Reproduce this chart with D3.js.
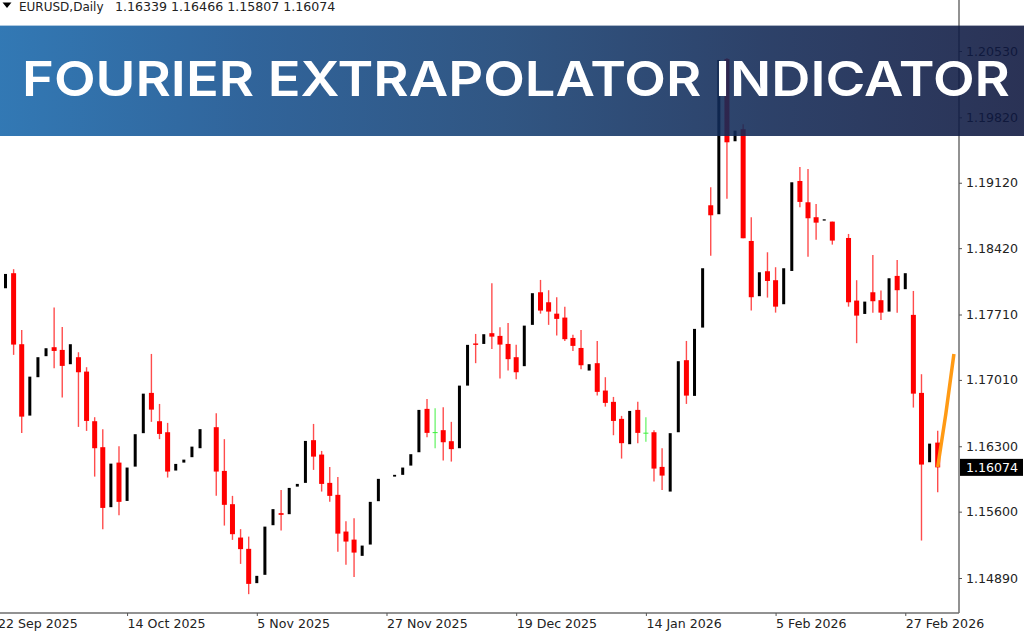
<!DOCTYPE html>
<html>
<head>
<meta charset="utf-8">
<style>
  body { margin: 0; background: #fff; }
  text { font-family: "DejaVu Sans", sans-serif; }
</style>
<script src="https://cdn.jsdelivr.net/npm/d3@7"></script>
</head>
<body>
<div id="chart"></div>
<script>
// Daily EURUSD bars, one entry per bar, null where the chart shows no bar
const opens = [1.17991,1.18152,1.17392,1.16628,1.17039,1.17264,1.17360,1.17331,1.17178,1.17253,1.17099,1.16568,1.16290,1.15648,1.16125,1.15715,1.16082,1.16440,1.16871,1.16568,1.16450,1.16040,1.16125,1.16183,1.16279,null,1.16504,1.16036,1.15680,1.15323,1.15202,1.14835,1.14924,1.15455,1.15584,1.15573,1.15868,1.15908,1.16365,1.16211,1.15908,1.15780,1.15387,1.15301,1.15127,1.15248,1.15712,null,1.15975,1.15994,1.16093,1.16236,1.16700,1.16446,1.16472,1.16354,1.16279,1.16949,1.17400,1.17395,1.17510,1.17481,1.17395,1.17253,1.17157,1.17599,1.17948,1.17841,1.17719,1.17677,1.17459,1.17352,1.17110,1.17189,1.16896,1.16775,1.16593,1.16322,1.16689,1.16440,1.16450,1.16079,1.15815,1.16450,1.17221,1.16839,1.17570,1.18879,1.18783,1.20445,1.19564,1.19693,1.18497,1.17906,1.18173,1.18077,1.17820,1.18176,1.19139,1.18911,1.18751,1.18715,1.18704,null,1.18529,1.17859,1.17716,1.17948,1.17863,1.17741,1.18123,1.17981,1.17706,1.16871,1.16129,1.16339];
const highs = [1.18144,1.18195,1.17545,1.17045,1.17253,1.17349,1.17784,1.17577,1.17392,1.17306,1.17146,1.16611,1.16483,1.16114,1.16301,1.16072,1.16429,1.16863,1.17288,1.16753,1.16550,1.16111,1.16157,1.16296,1.16483,null,1.16654,1.16376,1.15769,1.15413,1.15333,1.14913,1.15440,1.15627,1.15833,1.15854,1.15897,1.16357,1.16539,1.16250,1.16079,1.15972,1.15498,1.15530,1.15237,1.15705,1.15951,null,1.15994,1.16072,1.16215,1.16689,1.16807,1.16707,1.16718,1.16561,1.16949,1.17385,1.17502,1.17499,1.18045,1.17574,1.17620,1.17385,1.17591,1.17938,1.18080,1.17970,1.17895,1.17794,1.17492,1.17545,1.17178,1.17427,1.17039,1.16828,1.16625,1.16678,1.16775,1.16611,1.16472,1.16279,1.16440,1.17210,1.17427,1.17556,1.18205,1.19072,1.20434,1.20456,1.19678,1.19746,1.18751,1.18162,1.18376,1.18216,1.18205,1.19125,1.19289,1.19268,1.18893,1.18729,1.18704,null,1.18572,1.18077,1.17848,1.18348,1.17966,1.18098,1.18294,1.18152,1.17962,1.17071,1.16328,1.16466];
const lows = [1.17991,1.17278,1.16443,1.16628,1.17039,1.17264,1.17135,1.16821,1.17178,1.16507,1.16464,1.15975,1.15413,1.15648,1.15562,1.15715,1.16082,1.16440,1.16561,1.16376,1.15965,1.16040,1.16125,1.16183,1.16279,null,1.15769,1.15451,1.15298,1.15041,1.14717,1.14835,1.14924,1.15455,1.15398,1.15573,1.15868,1.15908,1.16047,1.15815,1.15705,1.15170,1.15031,1.14902,1.15127,1.15248,1.15712,null,1.15975,1.15994,1.16093,1.16236,1.16397,1.16279,1.16147,1.16136,1.16279,1.16949,1.17189,1.17395,1.17342,1.17024,1.17110,1.17018,1.17157,1.17599,1.17719,1.17599,1.17484,1.17427,1.17320,1.17125,1.17110,1.16842,1.16724,1.16418,1.16168,1.16322,1.16333,1.16347,1.15922,1.15833,1.15815,1.16450,1.16753,1.16839,1.17570,1.18340,1.18783,1.18950,1.19564,1.18526,1.17752,1.17906,1.17891,1.17730,1.17820,1.18176,1.18858,1.18329,1.18511,1.18715,1.18458,null,1.17794,1.17403,1.17716,1.17730,1.17652,1.17741,1.17730,1.17981,1.16714,1.15291,1.16129,1.15807];
const closes = [1.18144,1.17388,1.16617,1.17045,1.17253,1.17349,1.17320,1.17160,1.17392,1.17092,1.16571,1.16279,1.15640,1.16114,1.15705,1.16072,1.16429,1.16863,1.16692,1.16432,1.16029,1.16111,1.16157,1.16296,1.16483,null,1.16029,1.15673,1.15359,1.15199,1.14827,1.14913,1.15440,1.15627,1.15566,1.15854,1.15897,1.16357,1.16189,1.15897,1.15769,1.15365,1.15280,1.15162,1.15237,1.15705,1.15951,null,1.15994,1.16072,1.16215,1.16689,1.16443,1.16446,1.16343,1.16269,1.16949,1.17385,1.17385,1.17499,1.17473,1.17388,1.17232,1.17092,1.17591,1.17938,1.17752,1.17741,1.17663,1.17446,1.17374,1.17167,1.17178,1.16882,1.16764,1.16571,1.16333,1.16678,1.16443,1.16440,1.16061,1.15986,1.16440,1.17210,1.16842,1.17556,1.18205,1.18772,1.20434,1.19553,1.19678,1.18526,1.17895,1.18162,1.18069,1.17794,1.18205,1.19125,1.18915,1.18740,1.18693,1.18729,1.18501,null,1.17841,1.17698,1.17848,1.17852,1.17730,1.18098,1.17970,1.18152,1.16863,1.16104,1.16328,1.16074];

// extrapolated forecast, starts on the last real bar
const forecastBars = [115, 116, 117];
const forecast = [1.16079, 1.16646, 1.17288];

const priceTicks = [1.20530, 1.19820, 1.19120, 1.18420, 1.17710, 1.17010, 1.16300, 1.15600, 1.14890];
const dateTickBars = [-1, 15, 31, 47, 63, 79, 95, 111];
const dateLabels = ["22 Sep 2025", "14 Oct 2025", "5 Nov 2025", "27 Nov 2025", "19 Dec 2025", "14 Jan 2026", "5 Feb 2026", "27 Feb 2026"];

const symbol = "EURUSD,Daily";
const title = "FOURIER EXTRAPOLATOR INDICATOR";
const lastPrice = 1.16074;

const width = 1024, height = 640;
const axisX = 959, axisY = 613;

const svg = d3.select("#chart").append("svg")
  .attr("width", width)
  .attr("height", height)
  .style("display", "block");

const xScale = d3.scaleLinear().domain([0, 115]).range([5.5, 937.7]);
const yScale = d3.scaleLinear().domain([1.1489, 1.2053]).range([578, 51]);

const bars = opens
  .map((o, i) => ({ i, o, h: highs[i], l: lows[i], c: closes[i] }))
  .filter(d => d.o !== null);

const barColor = d => (d.c > d.o ? "#000" : d.c < d.o ? "#ff0000" : "#3cf03c");

// Wicks first so the bodies sit on top
svg.append("g").selectAll("line")
  .data(bars.filter(d => d.c <= d.o))
  .enter().append("line")
  .attr("x1", d => xScale(d.i))
  .attr("x2", d => xScale(d.i))
  .attr("y1", d => yScale(d.h))
  .attr("y2", d => yScale(d.l))
  .attr("stroke", barColor)
  .attr("stroke-opacity", 0.7)
  .attr("stroke-width", 1.4);

// Bull bars are narrow, bear bars wide, dojis just a short dash
svg.append("g").selectAll("rect")
  .data(bars)
  .enter().append("rect")
  .attr("x", d => xScale(d.i) - (d.c > d.o ? 1.5 : 2.5))
  .attr("width", d => (d.c > d.o ? 3 : 5))
  .attr("y", d => (d.c === d.o ? yScale(d.o) - 0.5 : yScale(Math.max(d.o, d.c))))
  .attr("height", d => (d.c === d.o ? 1 : Math.abs(yScale(d.o) - yScale(d.c))))
  .attr("fill", barColor);

const forecastLine = d3.line()
  .x((d, i) => xScale(forecastBars[i]))
  .y(d => yScale(d));

svg.append("path")
  .datum(forecast)
  .attr("d", forecastLine)
  .attr("fill", "none")
  .attr("stroke", "#ff9a14")
  .attr("stroke-width", 3.5);

// Axes
const yAxis = d3.axisRight(yScale)
  .tickValues(priceTicks)
  .tickFormat(d3.format(".5f"))
  .tickSize(3)
  .tickPadding(4);

const yAxisG = svg.append("g")
  .attr("transform", `translate(${axisX},0)`)
  .call(yAxis);
yAxisG.select(".domain").attr("d", `M0,0V${axisY}`);

const xAxis = d3.axisBottom(xScale)
  .tickValues(dateTickBars)
  .tickFormat((d, i) => dateLabels[i])
  .tickSize(3)
  .tickPadding(3);

const xAxisG = svg.append("g")
  .attr("transform", `translate(0,${axisY})`)
  .call(xAxis);
xAxisG.select(".domain").attr("d", `M0,0H${axisX}`);
xAxisG.selectAll("text").attr("text-anchor", "start");

svg.selectAll(".domain").attr("stroke", "#6e6e6e").attr("stroke-width", 1.5);
svg.selectAll(".tick line").attr("stroke", "#555");
svg.selectAll(".tick text")
  .attr("fill", "#222")
  .style("font-size", "12.6px");

// Current price badge
const badge = svg.append("g")
  .attr("transform", `translate(${axisX + 1},${yScale(lastPrice)})`);
badge.append("rect")
  .attr("y", -8.5)
  .attr("width", 63)
  .attr("height", 17)
  .attr("fill", "#000");
badge.append("text")
  .attr("x", 6)
  .attr("dy", "0.36em")
  .attr("fill", "#fff")
  .style("font-size", "12.6px")
  .text(d3.format(".5f")(lastPrice));

// Top left caption
svg.append("path")
  .attr("d", "M2.5,2.5H11.5L7,8Z")
  .attr("fill", "#000");
svg.append("text")
  .attr("x", 19)
  .attr("y", 11)
  .attr("fill", "#222")
  .style("font-size", "12px")
  .text(symbol);
svg.append("text")
  .attr("x", 115)
  .attr("y", 11)
  .attr("fill", "#222")
  .style("font-size", "12.6px")
  .text([opens, highs, lows, closes].map(s => s[s.length - 1].toFixed(5)).join(" "));

// Title banner lies over the chart, dark marks still show through
const grad = svg.append("defs").append("linearGradient")
  .attr("id", "banner")
  .attr("x1", 0).attr("x2", 1).attr("y1", 0).attr("y2", 0);
grad.append("stop").attr("offset", "0%").attr("stop-color", "#1666aa");
grad.append("stop").attr("offset", "24%").attr("stop-color", "#144f8d");
grad.append("stop").attr("offset", "50%").attr("stop-color", "#143e71");
grad.append("stop").attr("offset", "75%").attr("stop-color", "#102754");
grad.append("stop").attr("offset", "100%").attr("stop-color", "#0d163e");

svg.append("rect")
  .attr("x", 0)
  .attr("y", 25.6)
  .attr("width", width)
  .attr("height", 110.4)
  .attr("fill", "url(#banner)")
  .attr("fill-opacity", 0.88);

svg.append("text")
  .attr("x", 22)
  .attr("y", 96)
  .attr("fill", "#fff")
  .attr("textLength", 988)
  .attr("lengthAdjust", "spacingAndGlyphs")
  .style("font-family", "Inter, sans-serif")
  .style("font-weight", 600)
  .style("font-size", "48.5px")
  .text(title);
</script>
</body>
</html>
